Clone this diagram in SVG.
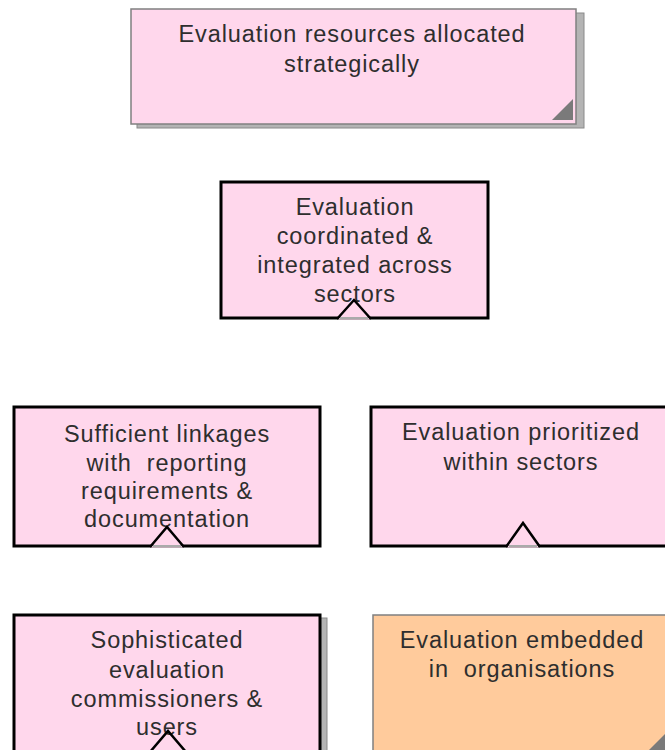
<svg xmlns="http://www.w3.org/2000/svg" width="665" height="750" viewBox="0 0 665 750">
<style>
text{font-family:"Liberation Sans",Arial,sans-serif;font-size:23.5px;fill:#2e2e2e;text-anchor:middle;letter-spacing:0.9px;white-space:pre}
.pink{fill:#ffd7ec}
.orange{fill:#ffcb9c}
.thick{fill:none;stroke:#000;stroke-width:3;stroke-linejoin:miter}
.thin{stroke:#808080;stroke-width:1.5}
.shadow{fill:#b4b4b4;stroke:#8a8a8a;stroke-width:1}
.corner{fill:#7a7a7a}
.cover{stroke:none}
.base{stroke:#aaa;stroke-width:2}
.chev{fill:none;stroke:#000;stroke-width:2.5;stroke-linejoin:miter}
</style>
<rect width="665" height="750" fill="#fff"/>

<g id="node-resources">
<rect class="shadow" x="137" y="13" width="447" height="115"/>
<rect class="pink thin" x="131" y="9" width="445" height="115"/>
<polygon class="corner" points="552,120 573,120 573,99"/>
<text x="352" y="42">Evaluation resources allocated</text>
<text x="352" y="72">strategically</text>
</g>

<g id="node-coordinated">
<rect class="pink" x="221" y="182" width="267" height="136"/>
<rect class="thick" x="221" y="182" width="267" height="136"/>
<text x="355" y="215">Evaluation</text>
<text x="355" y="244">coordinated &amp;</text>
<text x="355" y="273">integrated across</text>
<text x="355" y="302">sectors</text>
</g>

<g id="node-linkages">
<rect class="pink" x="14" y="407" width="306" height="139"/>
<rect class="thick" x="14" y="407" width="306" height="139"/>
<text x="167" y="442">Sufficient linkages</text>
<text x="167" y="471">with  reporting</text>
<text x="167" y="499">requirements &amp;</text>
<text x="167" y="527">documentation</text>
</g>

<g id="node-prioritized">
<rect class="pink" x="371" y="407" width="300" height="139"/>
<rect class="thick" x="371" y="407" width="300" height="139"/>
<text x="521" y="440">Evaluation prioritized</text>
<text x="521" y="470">within sectors</text>
</g>

<g id="node-sophisticated">
<rect class="shadow" x="20" y="618" width="307" height="140"/>
<rect class="pink" x="14" y="615" width="306" height="140"/>
<rect class="thick" x="14" y="615" width="306" height="140"/>
<text x="167" y="648">Sophisticated</text>
<text x="167" y="678">evaluation</text>
<text x="167" y="707">commissioners &amp;</text>
<text x="167" y="735">users</text>
</g>

<g id="node-embedded">
<rect class="orange thin" x="373" y="615" width="298" height="140"/>
<polygon class="corner" points="647,752 668,752 668,731"/>
<text x="522" y="648">Evaluation embedded</text>
<text x="522" y="677">in  organisations</text>
</g>

<g id="connectors">
<polygon class="pink cover" points="338,319.5 354,301 370,319.5"/>
<line class="base" x1="340" y1="318" x2="368" y2="318"/>
<polyline class="chev" points="337,319 354,300 371,319"/>

<polygon class="pink cover" points="151,547.5 167,528 183,547.5"/>
<line class="base" x1="153" y1="546" x2="181" y2="546"/>
<polyline class="chev" points="150,547 167,527 184,547"/>

<polygon class="pink cover" points="507,547.5 523,524 539,547.5"/>
<line class="base" x1="509" y1="546" x2="537" y2="546"/>
<polyline class="chev" points="506,547 523,523 540,547"/>

<polyline class="chev" points="150,752 168,731 186,752"/>
</g>
</svg>
